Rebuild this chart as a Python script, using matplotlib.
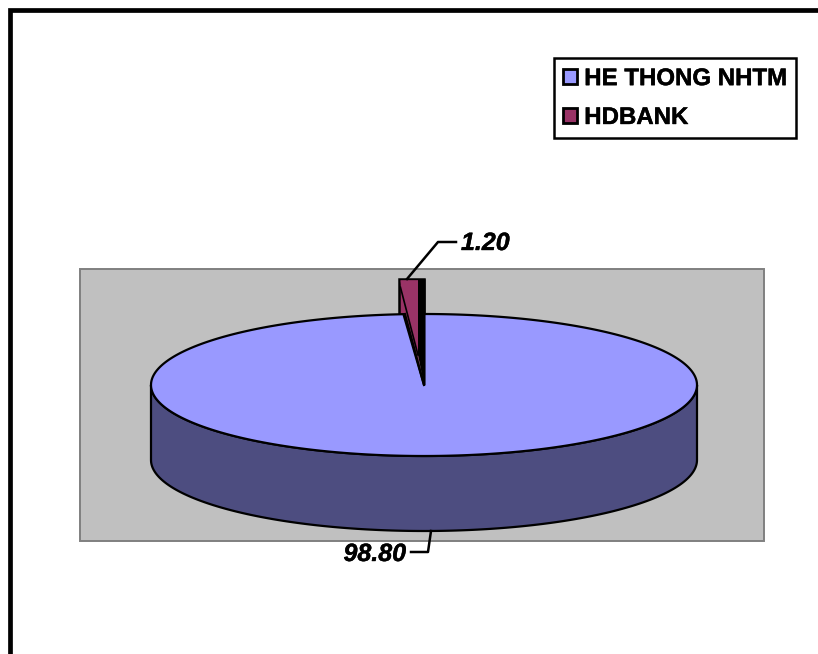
import numpy as np
import matplotlib
matplotlib.use('Agg')
from matplotlib import pyplot as plt
from matplotlib.patches import Rectangle, Polygon, Patch
from matplotlib import patheffects as pe

categories = ['HE THONG NHTM', 'HDBANK']
values = [98.80, 1.20]
labels = ['98.80', '1.20']
colors = ['#9999FF', '#993366']
side_color = '#4D4D80'

# pie geometry in pixels
cx, cy = 424, 385
rx, ry = 273, 71
depth = 75
lift = 35


def rim(deg, dy=0):
    # angles run clockwise from 12 o'clock
    a = np.radians(deg)
    return np.column_stack([cx + rx * np.sin(a), cy + dy - ry * np.cos(a)])


fig = plt.figure(figsize=(8.18, 6.54), dpi=100)
ax = fig.add_axes([0, 0, 1, 1])
ax.set_xlim(0, 818)
ax.set_ylim(654, 0)
ax.axis('off')

plt.rcParams['font.family'] = ['Liberation Sans', 'DejaVu Sans']
heavy = [pe.withStroke(linewidth=0.3, foreground='black')]

# outer chart frame, runs off the right and bottom edges
ax.add_patch(Rectangle((10, 10), 830, 670, fc='white', ec='black', lw=3.4, zorder=1))
# plot area
ax.add_patch(Rectangle((80, 269), 684, 272, fc='#C0C0C0', ec='#808080', lw=1.4, zorder=2))

share = 360 * np.array(values) / sum(values)
slice_deg = share[1]

# side wall of the pie (front half only)
front = np.linspace(90, 270, 200)
wall = np.vstack([rim(front), rim(front[::-1], depth)])
ax.add_patch(Polygon(wall, closed=True, fc=side_color, ec='black', lw=1.6, zorder=3))

# small slice stands behind the big one, lifted up
left = rim(-slice_deg)[0]
top_y = left[1] - lift
back = [[left[0] - 4, top_y], [cx, top_y], [cx, cy - ry], [left[0] - 4, cy - ry]]
ax.add_patch(Polygon(back, closed=True, fc=colors[1], ec='black', lw=1.8, zorder=4))

# big slice top
ang = np.linspace(0, share[0], 500)
top = np.vstack([[cx, cy], rim(ang)])
ax.add_patch(Polygon(top, closed=True, fc=colors[0], ec='black', lw=1.6, zorder=5))

# gap of the small slice, maroon face and black wall down to the centre
face = [[left[0] - 3, top_y + 1], [cx - 6, top_y + 1], [cx - 6, cy - 30], [cx, cy], [left[0] + 1.5, cy - ry]]
ax.add_patch(Polygon(face, closed=True, fc=colors[1], ec='none', zorder=6))
dark = [[cx - 6, top_y], [cx + 1.5, top_y], [cx + 1.5, cy], [cx, cy], [cx - 6, cy - 30]]
ax.add_patch(Polygon(dark, closed=True, fc='black', ec='none', zorder=7))
ax.plot([left[0] - 3, cx - 6], [top_y + 8, cy - 30], color='black', lw=1.2, zorder=7)
ax.plot([left[0] + 1.5, cx], [cy - ry, cy], color='black', lw=1.6, zorder=7)

# data labels and leader lines
ax.plot([407, 438, 456], [279, 242, 242], color='black', lw=1.8, zorder=8)
ax.plot([431, 428, 411], [531, 552, 552], color='black', lw=1.8, zorder=8)
ax.text(461, 243, labels[1], fontsize=18, fontweight='bold', fontstyle='italic',
        ha='left', va='center', zorder=9, path_effects=heavy)
ax.text(406, 554, labels[0], fontsize=18, fontweight='bold', fontstyle='italic',
        ha='right', va='center', zorder=9, path_effects=heavy)

handles = [Patch(fc=c, ec='black', lw=2) for c in colors]
leg = ax.legend(handles, categories, loc='upper left', bbox_to_anchor=(553.5 / 818, 1 - 58 / 654),
                borderaxespad=0, prop={'family': 'Liberation Sans', 'weight': 'bold', 'size': 17.3},
                fancybox=False, framealpha=1, edgecolor='black',
                handlelength=0.6, handleheight=0.6, handletextpad=0.3,
                labelspacing=0.66, borderpad=0.38)
leg.get_frame().set_linewidth(1.8)
leg.set_zorder(10)
for t in leg.get_texts():
    t.set_path_effects(heavy)

fig.savefig('out.png', dpi=100)
